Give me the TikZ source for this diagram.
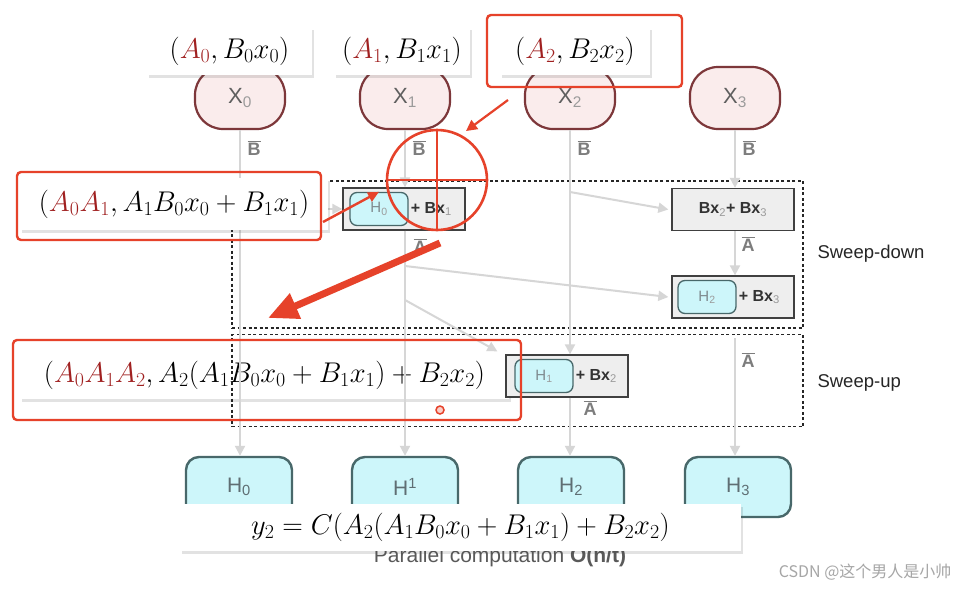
\RequirePackage{fix-cm}
\documentclass[tikz,border=0pt]{standalone}
\usepackage{amsmath}
\usepackage{xcolor}
\usepackage{fontspec}
\setsansfont{Liberation Sans}
\newfontfamily\cjkfont{Noto Sans CJK SC}
\usepackage{tikz}
\usetikzlibrary{arrows.meta,positioning,shadows}
\definecolor{cRed}{RGB}{230,66,42}
\definecolor{cAred}{RGB}{160,32,32}
\definecolor{xFill}{RGB}{250,236,236}
\definecolor{xBorder}{RGB}{125,55,58}
\definecolor{xText}{RGB}{95,95,95}
\definecolor{hFill}{RGB}{205,246,250}
\definecolor{hBorder}{RGB}{72,104,106}
\definecolor{hText}{RGB}{95,110,115}
\definecolor{boxFill}{RGB}{238,238,238}
\definecolor{cFlow}{RGB}{214,214,214}
\definecolor{barGray}{RGB}{125,125,125}
\definecolor{subGray}{RGB}{155,155,155}
\newcommand{\barlbl}[1]{$\overline{\text{#1}}$}
\newcommand{\gsub}[1]{\textsubscript{\color{subGray}\mdseries #1}}

\begin{document}
\begin{tikzpicture}[x=1pt, y=-1pt,
  xnode/.style={draw=xBorder, fill=xFill, line width=2.2pt, rounded corners=28pt, minimum width=90pt, minimum height=62pt, font=\fontsize{22}{24}\sffamily, text=xText},
  hnode/.style={draw=hBorder, fill=hFill, line width=2.4pt, rounded corners=13pt, minimum width=106pt, minimum height=60pt, font=\fontsize{21}{24}\sffamily, text=hText},
  sumbox/.style={draw=black!75, fill=boxFill, line width=1.3pt, minimum width=122pt, minimum height=42pt, font=\fontsize{16}{18}\sffamily\bfseries, text=black!80},
  hsmall/.style={draw=hBorder, fill=hFill, line width=1.3pt, rounded corners=7pt, minimum width=58pt, minimum height=33pt, font=\fontsize{15}{17}\sffamily, text=hText!80},
  sweep/.style={draw=black!85, line width=1.4pt, dash pattern=on 3pt off 2.5pt},
  sweeptext/.style={font=\fontsize{18.5}{20}\sffamily, text=black!85},
  flow/.style={draw=cFlow, line width=2pt, -{Triangle[width=10pt,length=10pt]}},
  barnode/.style={font=\fontsize{18}{20}\sffamily\bfseries, text=barGray, inner sep=0pt},
  lbl/.style={fill=white, inner sep=0pt, font=\fontsize{28.5}{30}\selectfont, drop shadow={shadow xshift=1.5pt, shadow yshift=-2.5pt, fill=black!70, opacity=0.16}},
  redbox/.style={draw=cRed, line width=2.4pt, rounded corners=4pt},
  redline/.style={draw=cRed, line width=2.6pt}
]
  \fill[white] (0,0) rectangle (960,589);
  \useasboundingbox (0,0) rectangle (960,589);

  % last partial result sits under the sweep frame
  \node[lbl, minimum width=489pt, minimum height=47pt] (p4) at (264.5,375.5)
    {$(\textcolor{cAred}{A_0A_1A_2}, A_2(A_1B_0x_0 + B_1x_1) + B_2x_2)$};

  \node[sweep, minimum width=571pt, minimum height=147pt] (down) at (517.5,254.5) {};
  \node[sweep, minimum width=571pt, minimum height=92pt] (up) at (517.5,380.5) {};
  \node[sweeptext, anchor=west] at (814,254) {Sweep-down};
  \node[sweeptext, anchor=west] at (814,383) {Sweep-up};

  % partial sums
  \node[sumbox] (sd1) at (404,209) {};
  \node[hsmall, anchor=west] (sh0) at ([xshift=7pt]sd1.west) {H\gsub{0}};
  \node[anchor=west, inner xsep=2pt, font=\fontsize{16}{18}\sffamily\bfseries, text=black!80] at (sh0.east) {+ Bx\gsub{1}};
  \node[sumbox] (sd2) at (733,209.5) {Bx\gsub{2}+ Bx\gsub{3}};
  \node[sumbox] (sd3) at (733,297) {};
  \node[hsmall, anchor=west] (sh2) at ([xshift=6pt]sd3.west) {H\gsub{2}};
  \node[anchor=west, inner xsep=2pt, font=\fontsize{16}{18}\sffamily\bfseries, text=black!80] at (sh2.east) {+ Bx\gsub{3}};
  \node[sumbox] (su1) at (567,376) {};
  \node[hsmall, anchor=west] (sh1) at ([xshift=9pt]su1.west) {H\gsub{1}};
  \node[anchor=west, inner xsep=2pt, font=\fontsize{16}{18}\sffamily\bfseries, text=black!80] at (sh1.east) {+ Bx\gsub{2}};

  % inputs and outputs
  \node[xnode] (X0) at (240,98) {X\gsub{0}};
  \node[xnode] (X1) at (405,98) {X\gsub{1}};
  \node[xnode] (X2) at (570,98) {X\gsub{2}};
  \node[xnode] (X3) at (735,98) {X\gsub{3}};
  \node[hnode] (H0) at (239,487) {H\textsubscript{0}};
  \node[hnode] (H1) at (405,487) {H\textsuperscript{1}};
  \node[hnode] (H2) at (571,487) {H\textsubscript{2}};
  \node[hnode] (H3) at (738,487) {H\textsubscript{3}};

  % flows
  \coordinate (b0) at (240,209);
  \coordinate (b1a) at (405,266);
  \coordinate (b1b) at (405,300);
  \coordinate (b2) at (570,192);
  \coordinate (c3) at (735,338);
  \draw[flow] (X0.south) -- (X0.south |- H0.north);
  \draw[flow] (X1.south) -- (X1.south |- sd1.north);
  \draw[flow] (sd1.south -| X1) -- (X1 |- H1.north);
  \draw[flow] (X2.south) -- (X2.south |- su1.north);
  \draw[flow] (su1.south -| X2) -- (X2 |- H2.north);
  \draw[flow] (X3.south) -- (X3.south |- sd2.north);
  \draw[flow] (sd2.south -| X3) -- (X3 |- sd3.north);
  \draw[flow] (c3) -- (X3 |- H3.north);
  \draw[flow] (b0) -- (sd1.west);
  \draw[flow] (b2) -- ([xshift=-3pt]sd2.west);
  \draw[flow] (b1a) -- ([xshift=-3pt]sd3.west);
  \draw[flow] (b1b) -- ([xshift=-8pt,yshift=3pt]su1.north west);

  \node[barnode] (bB0) at (254,148) {\barlbl{B}};
  \node[barnode] (bB1) at (419,148) {\barlbl{B}};
  \node[barnode] (bB2) at (584,148) {\barlbl{B}};
  \node[barnode] (bB3) at (749,148) {\barlbl{B}};
  \node[barnode] (aA1) at (420,246) {\barlbl{A}};
  \node[barnode] (aA3) at (748,244) {\barlbl{A}};
  \node[barnode] (aA2) at (590,408) {\barlbl{A}};
  \node[barnode] (aA4) at (748,360) {\barlbl{A}};

  % annotations
  \node[lbl, minimum width=165pt, minimum height=48pt] (p0) at (229.5,51) {$(\textcolor{cAred}{A_0}, B_0x_0)$};
  \node[lbl, minimum width=136pt, minimum height=48pt] (p1) at (402,51) {$(\textcolor{cAred}{A_1}, B_1x_1)$};
  \node[lbl, minimum width=150pt, minimum height=48pt] (p2) at (575,51) {$(\textcolor{cAred}{A_2}, B_2x_2)$};
  \draw[redbox] (487,15) rectangle (682,87);
  \node[lbl, minimum width=308pt, minimum height=52pt] (p3) at (174,204)
    {$(\textcolor{cAred}{A_0A_1}, A_1B_0x_0 + B_1x_1)$};
  \draw[redbox] (17,172) rectangle (321,240);
  \draw[redbox] (13,340) rectangle (521,420);

  \draw[redline] (437,180) circle[radius=50];
  \draw[redline] (437,130) -- (437,230);
  \draw[redline] (387,180) -- (488,180);
  \draw[redline, line width=2.2pt, -{Triangle[width=11pt,length=11pt]}] (508,100) -- (466,131);
  \draw[redline, line width=2.4pt, -{Triangle[width=10pt,length=11pt]}] (323,222) -- (sh0.north);
  \draw[redline, line width=7pt, -{Triangle[width=26pt,length=30pt]}] (440,243) -- (268,318);
  \draw[cRed, fill=cRed!25, line width=1.5pt] (440,410) circle[radius=4];

  \node[font=\fontsize{21}{23}\sffamily, text=black!65, anchor=base] (par) at (500,562) {Parallel computation \textbf{O(n/t)}};
  \node[lbl, minimum width=561pt, minimum height=47pt] (yout) at (460.5,527.5)
    {$y_2 = C(A_2(A_1B_0x_0 + B_1x_1) + B_2x_2)$};
  \node[font=\fontsize{16}{18}\cjkfont, text=black!35, anchor=east] (wm) at (955,572) {CSDN @这个男人是小帅};
\end{tikzpicture}
\end{document}
